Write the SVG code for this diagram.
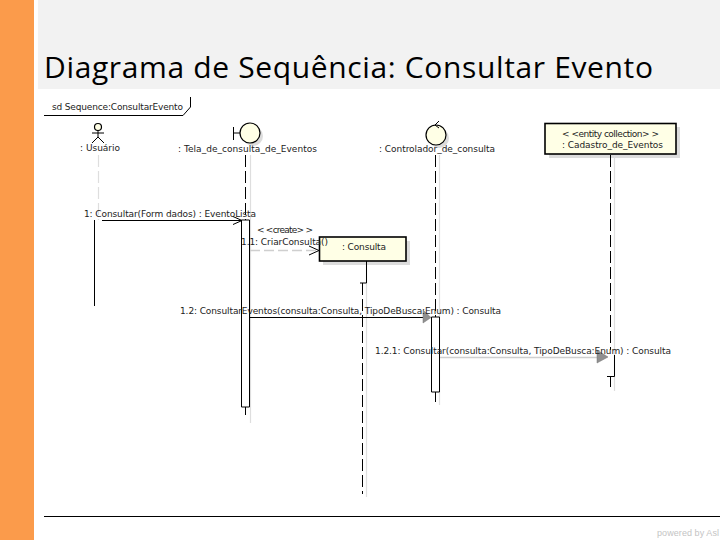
<svg xmlns="http://www.w3.org/2000/svg" width="720" height="540" viewBox="0 0 720 540">
<defs>
<marker id="open" markerWidth="12" markerHeight="10" refX="10" refY="5" orient="auto" markerUnits="userSpaceOnUse"><path d="M1 1 L10 5 L1 9" fill="none" stroke="#000" stroke-width="1"/></marker>
</defs>
<style>
text{font-family:"DejaVu Sans",sans-serif;font-size:9px;fill:#222}
.title{font-family:"Open Sans",sans-serif;font-size:30px;fill:#000}
.pw{font-family:"Liberation Sans",sans-serif;font-size:9px;fill:#c4c4c4}
.sh{stroke:#dedede;stroke-width:1.2;fill:none}
.shb{fill:#dcdcdc;stroke:none}
.box{fill:#ffffe6;stroke:#000;stroke-width:1.6}
.fig{fill:#ffffe6;stroke:#000;stroke-width:1.2}
.ln{stroke:#000;stroke-width:1;fill:none}
.ll{stroke:#000;stroke-width:1;stroke-dasharray:12 4;fill:none}
.msg{stroke:#000;stroke-width:1;fill:none}
.act{fill:#fff;stroke:#000;stroke-width:1}
.tri{fill:#909090;stroke:#777;stroke-width:.5}
</style>
<rect width="720" height="540" fill="#fff"/>
<rect x="0" y="0" width="34" height="540" fill="#fb9b4b"/>
<rect x="38" y="0" width="682" height="89" fill="#f2f2f2"/>
<text class="title" x="44" y="78" textLength="609" lengthAdjust="spacing">Diagrama de Sequência: Consultar Evento</text>

<g id="frame">
<path class="ln" d="M44 115.500H183L190.500 107V97"/>
<text x="52" y="110" textLength="131" lengthAdjust="spacing">sd Sequence:ConsultarEvento</text>
</g>

<g id="usuario">
<circle class="fig" cx="98" cy="127" r="3.500"/>
<path class="ln" stroke-width="1.2" d="M98 130.500V137M92 133H104M92 143L98 137L104 143"/>
<text x="80" y="151" textLength="40" lengthAdjust="spacing">: Usuário</text>
</g>

<g id="tela">
<circle class="shb" cx="253" cy="136" r="10"/>
<circle class="fig" cx="250" cy="133" r="10"/>
<path class="ln" stroke-width="1.2" d="M233.500 127V140M233.500 133H240"/>
<text x="178" y="152" textLength="139" lengthAdjust="spacing">: Tela_de_consulta_de_Eventos</text>
</g>

<g id="controlador">
<circle class="shb" cx="439" cy="138" r="10"/>
<circle class="fig" cx="436" cy="135" r="10"/>
<path class="ln" stroke-width="1.2" d="M439 121L435 125L439 128"/>
<text x="379" y="152" textLength="116" lengthAdjust="spacing">: Controlador_de_consulta</text>
</g>

<g id="cadastro">
<rect class="shb" x="549" y="127" width="131" height="31"/>
<rect class="box" x="545" y="123.500" width="131" height="30.500"/>
<text x="562" y="137" textLength="97" lengthAdjust="spacing">&lt; &lt;entity collection&gt; &gt;</text>
<text x="562" y="148" textLength="101" lengthAdjust="spacing">: Cadastro_de_Eventos</text>
</g>

<g id="consulta">
<rect class="shb" x="323" y="241" width="87" height="24"/>
<rect class="box" x="319.500" y="237" width="86.500" height="24"/>
<text x="342" y="250" textLength="44" lengthAdjust="spacing">: Consulta</text>
</g>

<g id="connectors">
<path class="sh" stroke-dasharray="12 4" d="M98.500 155V220"/>
<path class="sh" d="M250.500 155V423M366.500 262V497M439.500 155V405M614.500 155V391"/>
<path class="ll" d="M245.500 155V220M245.500 407V415"/>
<path class="ll" d="M435.500 155V317M435.500 392V402"/>
<path class="ll" d="M610.500 155V350M610.500 377V387"/>
<path class="ln" d="M366.500 261V283M360 283H366.500"/>
<path class="ll" d="M362.500 283V494"/>
<path class="ln" d="M94.500 220V306"/>
<path class="act" d="M241.500 220H249.500V407H241.500Z"/>
<path class="act" d="M431.500 317H439.500V392H431.500Z"/>
<path class="ln" d="M614.500 355V376.500H607"/>
<path class="msg" d="M102 220.500H242" marker-end="url(#open)"/>
<path d="M250 250.500H319" fill="none" stroke="#cfcfcf" stroke-width="1.5" stroke-dasharray="10 4"/>
<path class="msg" d="M309 246L319 250.500L309 255"/>
<path class="msg" d="M250 317.500H424"/>
<path class="tri" d="M423 310L431 317.500L423 323Z"/>
<path d="M440 357.500H598" stroke="#cfcfcf" stroke-width="1.5" fill="none"/>
<path class="tri" d="M597 350L608 357L597 363Z"/>
<text x="84" y="217" textLength="172" lengthAdjust="spacing">1: Consultar(Form dados) : EventoLista</text>
<text x="257" y="233" textLength="56" lengthAdjust="spacing">&lt; &lt;create&gt; &gt;</text>
<text x="241" y="245" textLength="87" lengthAdjust="spacing">1.1: CriarConsulta()</text>
<text x="180" y="314" textLength="321" lengthAdjust="spacing">1.2: ConsultarEventos(consulta:Consulta, TipoDeBusca:Enum) : Consulta</text>
<text x="375" y="354" textLength="296" lengthAdjust="spacing">1.2.1: Consultar(consulta:Consulta, TipoDeBusca:Enum) : Consulta</text>
</g>

<path d="M44 516.500H720" stroke="#000" stroke-width="1"/>
<text class="pw" x="657" y="536" textLength="62" lengthAdjust="spacing">powered by Asl</text>
</svg>
